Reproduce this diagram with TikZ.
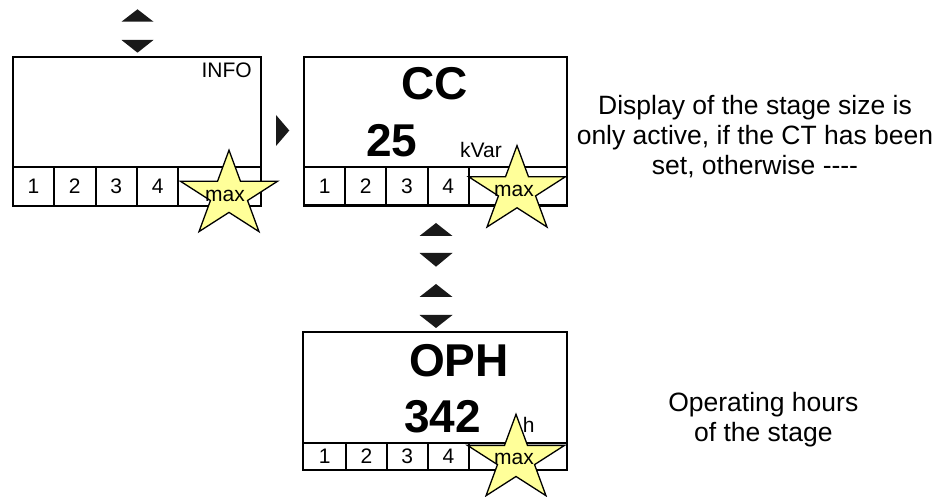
\documentclass[tikz,border=0pt]{standalone}
\usepackage{fontspec}
\setmainfont{Liberation Sans}
\definecolor{staryellow}{RGB}{255,255,153}
\tikzset{
  frame/.style={draw, line width=2pt, inner sep=0pt},
  cell/.style={draw, line width=2pt, inner sep=0pt, font=\fontsize{21}{24}\selectfont},
  small/.style={inner sep=0pt, font=\fontsize{21}{24}\selectfont},
  big/.style={inner sep=0pt, font=\fontsize{46}{50}\selectfont\bfseries},
  note/.style={align=center, inner sep=0pt, font=\fontsize{26.5}{30}\selectfont},
  maxstar/.style={fill=staryellow, draw=black, line width=1.3pt, line join=miter},
  key/.style={fill=black!90}
}
\newcommand{\starpath}[2]{% x, y of the star centre
  \begin{scope}[shift={(#1,#2)}]
    \filldraw[maxstar] (90:51 and 45) \foreach \a in {90,162,234,306,18}{ -- (\a+36:19.5 and 17.2) -- (\a+72:51 and 45)} -- cycle;
  \end{scope}}
\begin{document}
\begin{tikzpicture}[x=1pt,y=1pt]
\useasboundingbox (0,0) rectangle (952,497);
% keys above the first display
\fill[key] (121.5,475.3) -- (137.5,487.7) -- (153.5,475.3) -- cycle;
\fill[key] (121.5,457) -- (137.5,444.3) -- (153.5,457) -- cycle;
% display INFO
\node[frame, minimum width=248.3, minimum height=149] (disp1) at (136.85,365.8) {};
\node[small, anchor=base east] (info) at (252,419.7) {INFO};
\node[cell, minimum width=41.4, minimum height=38.4] (d1c1) at (33.4,310.5) {1};
\node[cell, minimum width=41.4, minimum height=38.4] (d1c2) at (74.8,310.5) {2};
\node[cell, minimum width=41.4, minimum height=38.4] (d1c3) at (116.2,310.5) {3};
\node[cell, minimum width=41.4, minimum height=38.4] (d1c4) at (157.6,310.5) {4};
\node[cell, minimum width=82.7, minimum height=38.4] (d1c5) at (219.65,310.5) {};
\starpath{229}{301.8}
\node[small, anchor=base] (max1) at (225,295.3) {max};
% key to the right
\fill[key] (276,382) -- (289.3,366.5) -- (276,351) -- cycle;
% display CC
\node[frame, minimum width=262.7, minimum height=149] (disp2) at (435.35,365.8) {};
\node[big, anchor=base] (cc) at (435,397) {CC};
\node[big, anchor=base] (val2) at (391.7,340.3) {25};
\node[small, anchor=base west] (unit2) at (460,339.7) {kVar};
\node[cell, minimum width=41.2, minimum height=38] (d2c1) at (324.6,310.7) {1};
\node[cell, minimum width=41.2, minimum height=38] (d2c2) at (365.8,310.7) {2};
\node[cell, minimum width=41.2, minimum height=38] (d2c3) at (407,310.7) {3};
\node[cell, minimum width=41.2, minimum height=38] (d2c4) at (448.2,310.7) {4};
\node[cell, minimum width=97.9, minimum height=38] (d2c5) at (517.75,310.7) {};
\starpath{517}{306.4}
\node[small, anchor=base] (max2) at (514,300) {max};
% keys between CC and OPH
\fill[key] (419.5,261) -- (436,274) -- (452.5,261) -- cycle;
\fill[key] (419.5,244) -- (436,230.3) -- (452.5,244) -- cycle;
\fill[key] (419.5,200) -- (436,213) -- (452.5,200) -- cycle;
\fill[key] (419.5,182) -- (436,169) -- (452.5,182) -- cycle;
% display OPH
\node[frame, minimum width=263.4, minimum height=138.3] (disp3) at (435,96.15) {};
\node[big, anchor=base] (oph) at (459,120.3) {OPH};
\node[big, anchor=base] (val3) at (442.5,64.3) {342};
\node[small, anchor=base west] (unit3) at (522.7,64.3) {h};
\node[cell, minimum width=42.7, minimum height=27.3] (d3c1) at (324.65,40.65) {1};
\node[cell, minimum width=40.7, minimum height=27.3] (d3c2) at (366.35,40.65) {2};
\node[cell, minimum width=41, minimum height=27.3] (d3c3) at (407.2,40.65) {3};
\node[cell, minimum width=41.3, minimum height=27.3] (d3c4) at (448.35,40.65) {4};
\node[cell, minimum width=97.7, minimum height=27.3] (d3c5) at (517.85,40.65) {};
\starpath{516}{37.7}
\node[small, anchor=base] (max3) at (514,32) {max};
% notes
\node[note] (note1) at (755,360.1) {Display of the stage size is\\only active, if the CT has been\\set, otherwise -{}-{}-{}-};
\node[note] (note2) at (763.3,77.1) {Operating hours\\of the stage};
\end{tikzpicture}
\end{document}
